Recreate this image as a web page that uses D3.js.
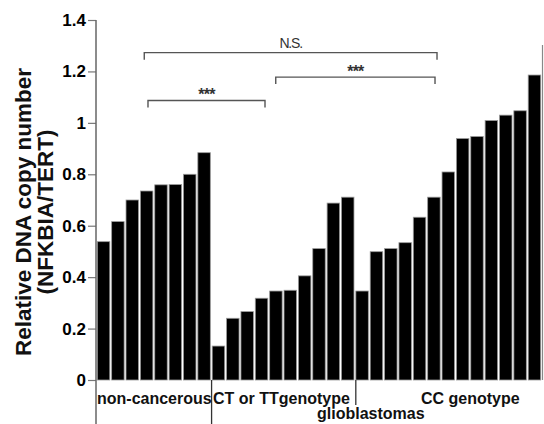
<!DOCTYPE html>
<html>
<head>
<meta charset="utf-8">
<script src="https://cdn.jsdelivr.net/npm/d3@7"></script>
<style>
  body { margin: 0; background: #fff; }
  text { font-family: "Liberation Sans", Arial, sans-serif; }
</style>
</head>
<body>
<svg id="chart" width="544" height="424"></svg>
<script>
// values, sorted within each group
var nonCancerous = [0.538, 0.616, 0.700, 0.735, 0.759, 0.760, 0.800, 0.884];
var ctTT = [0.132, 0.240, 0.266, 0.318, 0.346, 0.349, 0.405, 0.511, 0.688, 0.711];
var ccGenotype = [0.346, 0.499, 0.511, 0.534, 0.633, 0.711, 0.809, 0.939, 0.947, 1.009, 1.030, 1.047, 1.186];

var groupNames = ["non-cancerous", "CT or TTgenotype", "CC genotype"];
var yTicks = [0, 0.2, 0.4, 0.6, 0.8, 1, 1.2, 1.4];

// comparison brackets: from/to in bar index units, level in y units
var brackets = [
  {from: 3.3, to: 23.74, level: 1.273, label: "N.S."},
  {from: 3.56, to: 11.73, level: 1.087, label: "***"},
  {from: 12.48, to: 23.6, level: 1.178, label: "***"}
];

var svg = d3.select("svg#chart"),
    width = +svg.attr("width"),
    height = +svg.attr("height");

var bars = [];
[nonCancerous, ctTT, ccGenotype].forEach(function(vals, g) {
  vals.forEach(function(v) { bars.push({group: g, value: v}); });
});
bars.forEach(function(d, i) { d.i = i; });

var x = d3.scaleBand()
    .domain(d3.range(bars.length))
    .range([97, 541])
    .paddingInner(0.13)
    .paddingOuter(0.02);

// continuous index scale for brackets / dividers
var xi = d3.scaleLinear().domain([0, bars.length]).range([97, 541]);

var y = d3.scaleLinear().domain([0, 1.4]).range([380, 20]);

// bars
svg.append("g").selectAll("rect")
  .data(bars)
  .enter().append("rect")
    .attr("x", function(d) { return x(d.i); })
    .attr("y", function(d) { return y(d.value); })
    .attr("width", x.bandwidth())
    .attr("height", function(d) { return y(0) - y(d.value); })
    .attr("fill", "#000")
    .attr("stroke", "#9a9a9a")
    .attr("stroke-width", 0.8);

// y axis
var yAxis = svg.append("g")
    .attr("transform", "translate(96,0)")
    .call(d3.axisLeft(y).tickValues(yTicks).tickSize(8).tickPadding(2).tickFormat(d3.format("~g")));
yAxis.select(".domain").remove();
yAxis.selectAll(".tick line").attr("stroke", "#777").attr("stroke-width", 1.2);
yAxis.selectAll(".tick text")
    .attr("font-size", 17)
    .attr("font-weight", "bold")
    .attr("fill", "#000")
    .attr("font-family", "Liberation Sans, Arial, sans-serif");

// axis line runs down through the category boxes
svg.append("line")
    .attr("x1", 96).attr("x2", 96)
    .attr("y1", y(1.4)).attr("y2", height)
    .attr("stroke", "#666").attr("stroke-width", 1.5);

// right border line
svg.append("line")
    .attr("x1", 542.5).attr("x2", 542.5)
    .attr("y1", 45).attr("y2", y(0))
    .attr("stroke", "#888").attr("stroke-width", 1.2);

// group dividers below the axis
var b1 = nonCancerous.length, b2 = b1 + ctTT.length;
svg.append("line")
    .attr("x1", xi(b1)).attr("x2", xi(b1))
    .attr("y1", y(0)).attr("y2", height)
    .attr("stroke", "#333").attr("stroke-width", 1.3);
svg.append("line")
    .attr("x1", xi(b2) + 1).attr("x2", xi(b2) + 1)
    .attr("y1", y(0)).attr("y2", 405)
    .attr("stroke", "#333").attr("stroke-width", 1.3);

// category labels
var labels = svg.append("g")
    .attr("font-size", 16)
    .attr("font-weight", "bold")
    .attr("fill", "#111");
labels.append("text").attr("x", 97).attr("y", 404).text(groupNames[0]);
labels.append("text").attr("x", 213).attr("y", 404).text(groupNames[1]);
labels.append("text").attr("x", 421).attr("y", 404).text(groupNames[2]);
labels.append("text").attr("x", 317).attr("y", 419).text("glioblastomas");

// significance brackets
var br = svg.append("g").selectAll("g")
  .data(brackets)
  .enter().append("g");

br.append("path")
    .attr("d", function(d) {
      var x0 = xi(d.from), x1 = xi(d.to), yy = y(d.level);
      return "M" + x0 + "," + (yy + 7) + "V" + yy + "H" + x1 + "V" + (yy + 7);
    })
    .attr("fill", "none")
    .attr("stroke", "#555")
    .attr("stroke-width", 1.4);

br.append("text")
    .attr("x", function(d) { return (xi(d.from) + xi(d.to)) / 2; })
    .attr("y", function(d) { return y(d.level) - (d.label === "N.S." ? 4.5 : 0.5); })
    .attr("text-anchor", "middle")
    .attr("font-size", function(d) { return d.label === "N.S." ? 14 : 16; })
    .attr("font-weight", function(d) { return d.label === "N.S." ? "normal" : "bold"; })
    .attr("letter-spacing", function(d) { return d.label === "N.S." ? -1.2 : -0.8; })
    .attr("fill", "#333")
    .text(function(d) { return d.label; });

// y label, two centred lines
var yl = svg.append("text")
    .attr("transform", "translate(0,212) rotate(-90)")
    .attr("text-anchor", "middle")
    .attr("font-size", 22.5)
    .attr("font-weight", "bold")
    .attr("fill", "#111");
yl.append("tspan").attr("x", 0).attr("y", 31).text("Relative DNA copy number");
yl.append("tspan").attr("x", 0).attr("y", 53).text("(NFKBIA/TERT)");
</script>
</body>
</html>
